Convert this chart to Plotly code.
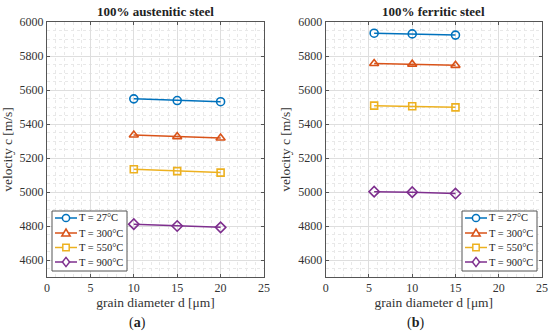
import plotly.graph_objects as go

# ---- data ----
temps = ["T = 27°C", "T = 300°C", "T = 550°C", "T = 900°C"]
d_aus = [10, 15, 20]
v_aus = {
    "T = 27°C": [5548, 5538, 5531],
    "T = 300°C": [5335, 5326, 5318],
    "T = 550°C": [5134, 5123, 5114],
    "T = 900°C": [4811, 4800, 4792],
}
d_fer = [5.6, 10, 15]
v_fer = {
    "T = 27°C": [5934, 5930, 5923],
    "T = 300°C": [5756, 5752, 5745],
    "T = 550°C": [5508, 5504, 5498],
    "T = 900°C": [5002, 4999, 4991],
}
titles = ["100% austenitic steel", "100% ferritic steel"]
panel_labels = ["(<b>a</b>)", "(<b>b</b>)"]
x_ticks = [0, 5, 10, 15, 20, 25]
y_ticks = [4600, 4800, 5000, 5200, 5400, 5600, 5800, 6000]

colors = ["#0072BD", "#D95319", "#EDB120", "#7E2F8E"]
symbols = ["circle-open", "triangle-up-open", "square-open", "diamond-open"]
msizes = [8, 8, 7, 8]

FONT = "Liberation Serif"
W, H = 550, 335
fig = go.Figure()

for i, t in enumerate(temps):
    fig.add_trace(go.Scatter(
        x=d_aus, y=v_aus[t], name=t, mode="lines+markers", showlegend=False,
        line=dict(color=colors[i], width=1.5),
        marker=dict(symbol=symbols[i], size=msizes[i], color=colors[i], line=dict(width=1.6, color=colors[i])),
        xaxis="x", yaxis="y"))
for i, t in enumerate(temps):
    fig.add_trace(go.Scatter(
        x=d_fer, y=v_fer[t], name=t, mode="lines+markers", showlegend=False,
        line=dict(color=colors[i], width=1.5),
        marker=dict(symbol=symbols[i], size=msizes[i], color=colors[i], line=dict(width=1.6, color=colors[i])),
        xaxis="x2", yaxis="y2"))

ydom = [1 - 277 / H, 1 - 22 / H]
xdoms = [[47 / W, 264 / W], [325.7 / W, 542 / W]]

def xaxis(dom, anchor):
    return dict(domain=dom, anchor=anchor, range=[0, 25], tickvals=x_ticks, automargin=False,
                showline=True, linecolor="#555", linewidth=1, mirror="ticks",
                ticks="inside", ticklen=3, tickcolor="#555",
                showgrid=True, gridcolor="#dedede", gridwidth=1,
                minor=dict(dtick=1, showgrid=True, gridcolor="#e8e8e8", griddash="dot", ticks=""),
                zeroline=False,
                title=dict(text="grain diameter d [μm]", font=dict(size=13.5, color="#333"), standoff=0),
                tickfont=dict(size=12, color="#333"))

def yaxis(dom, anchor):
    return dict(domain=dom, anchor=anchor, range=[4500, 6000], tickvals=y_ticks, automargin=False,
                showline=True, linecolor="#555", linewidth=1, mirror="ticks",
                ticks="inside", ticklen=3, tickcolor="#555",
                showgrid=True, gridcolor="#dedede", gridwidth=1,
                minor=dict(dtick=50, showgrid=True, gridcolor="#e8e8e8", griddash="dot", ticks=""),
                zeroline=False,
                title=dict(text="velocity c [m/s]", font=dict(size=13.5, color="#333"), standoff=4),
                tickfont=dict(size=12, color="#333"))

fig.update_layout(
    width=W, height=H, margin=dict(l=0, r=0, t=0, b=0, autoexpand=False),
    paper_bgcolor="white", plot_bgcolor="white",
    font=dict(family=FONT, color="#333"),
    xaxis=xaxis(xdoms[0], "y"), yaxis=yaxis(ydom, "x"),
    xaxis2=xaxis(xdoms[1], "y2"), yaxis2=yaxis(ydom, "x2"),
    showlegend=False,
)

# ---- compact MATLAB-style legend box (layout decoration, pixel geometry) ----
def px(x):
    return x / W

def py(y):
    return 1 - y / H

box_w = 75
legend_left = [52, 537 - box_w]   # box left edge in pixels, per panel
box_top, box_bottom = 211, 271
row_y = [218, 233, 247.5, 262]

for k in range(2):
    L = legend_left[k]
    fig.add_shape(type="rect", xref="paper", yref="paper",
                  x0=px(L), x1=px(L + box_w), y0=py(box_bottom), y1=py(box_top),
                  line=dict(color="#555", width=1), fillcolor="white")
    for i, t in enumerate(temps):
        cy = row_y[i]
        c = colors[i]
        x_a, x_b, cx = L + 3, L + 25, L + 14
        fig.add_shape(type="line", xref="paper", yref="paper",
                      x0=px(x_a), x1=px(x_b), y0=py(cy), y1=py(cy),
                      line=dict(color=c, width=1.5))
        mk = dict(xref="paper", yref="paper", line=dict(color=c, width=1.5), fillcolor="white")
        if i == 0:
            r = 3.6
            fig.add_shape(type="circle", x0=px(cx - r), x1=px(cx + r), y0=py(cy + r), y1=py(cy - r), **mk)
        elif i == 1:
            path = "M{},{} L{},{} L{},{} Z".format(px(cx), py(cy - 4), px(cx + 4.2), py(cy + 3),
                                                 px(cx - 4.2), py(cy + 3))
            fig.add_shape(type="path", path=path, **mk)
        elif i == 2:
            r = 3.2
            fig.add_shape(type="rect", x0=px(cx - r), x1=px(cx + r), y0=py(cy + r), y1=py(cy - r), **mk)
        else:
            path = "M{},{} L{},{} L{},{} L{},{} Z".format(px(cx), py(cy - 4.6), px(cx + 3.6), py(cy),
                                                       px(cx), py(cy + 4.6), px(cx - 3.6), py(cy))
            fig.add_shape(type="path", path=path, **mk)
        fig.add_annotation(text=t, x=px(L + 25), y=py(cy), xref="paper", yref="paper",
                           showarrow=False, xanchor="left", yanchor="middle",
                           font=dict(family=FONT, size=10.5, color="#222"))

for k in range(2):
    cx = (xdoms[k][0] + xdoms[k][1]) / 2
    fig.add_annotation(text="<b>" + titles[k] + "</b>", x=cx, y=py(11),
                       xref="paper", yref="paper", showarrow=False,
                       xanchor="center", yanchor="middle",
                       font=dict(family=FONT, size=13, color="#222"))
    fig.add_annotation(text=panel_labels[k], x=px(137 if k == 0 else 415), y=py(323),
                       xref="paper", yref="paper", showarrow=False,
                       xanchor="center", yanchor="middle",
                       font=dict(family=FONT, size=14, color="#222"))

fig.write_html("out.html", config={"displayModeBar": False},
               post_script="document.body.style.margin='0';document.body.style.overflow='hidden';")
